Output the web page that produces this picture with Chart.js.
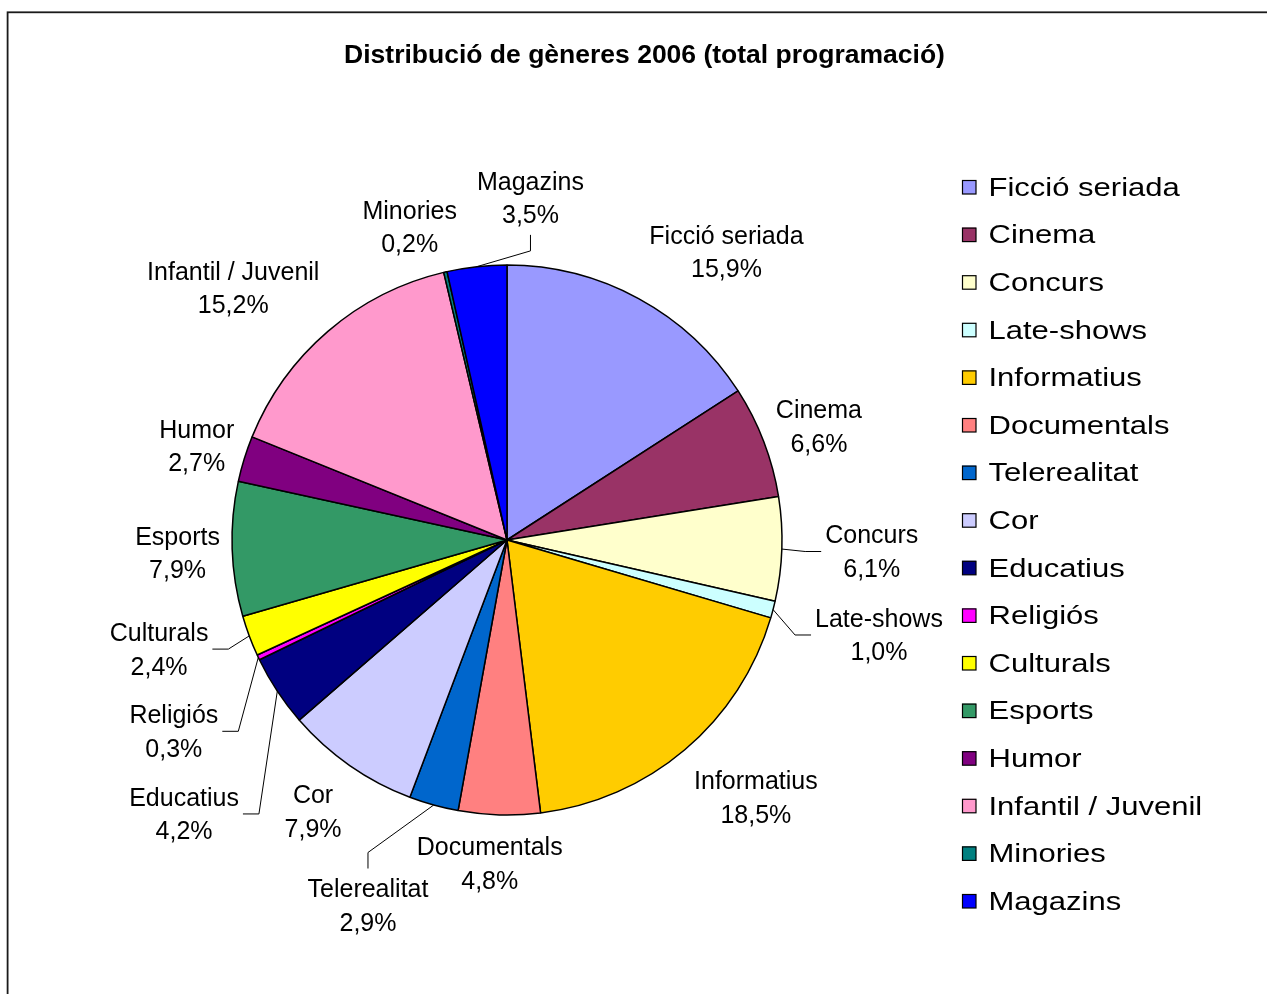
<!DOCTYPE html>
<html>
<head>
<meta charset="utf-8">
<title>Distribució de gèneres 2006</title>
<script src="https://cdn.jsdelivr.net/npm/chart.js@4"></script>
<style>
  html, body { margin: 0; padding: 0; background: #fff; overflow: hidden; }
  canvas { display: block; }
</style>
</head>
<body>
<canvas id="chart" width="1267" height="994"></canvas>
<script>
// ---- data ----
const chartTitle = 'Distribució de gèneres 2006 (total programació)';

const genres = [
  'Ficció seriada', 'Cinema', 'Concurs', 'Late-shows', 'Informatius',
  'Documentals', 'Telerealitat', 'Cor', 'Educatius', 'Religiós',
  'Culturals', 'Esports', 'Humor', 'Infantil / Juvenil', 'Minories', 'Magazins'
];

const shares = [15.9, 6.6, 6.1, 1.0, 18.5, 4.8, 2.9, 7.9, 4.2, 0.3, 2.4, 7.9, 2.7, 15.2, 0.2, 3.5];

const sliceColors = [
  '#9999FF', '#993366', '#FFFFCC', '#CCFFFF', '#FFCC00',
  '#FF8080', '#0066CC', '#CCCCFF', '#000080', '#FF00FF',
  '#FFFF00', '#339966', '#800080', '#FF99CC', '#008080', '#0000FF'
];

// ---- label layout: angular nudge (degrees, clockwise) from the slice middle,
// distance of the label centre in pie radii, and which side a leader line meets
const labelPlacement = [
  { da: 8.7,   k: 1.317 },
  { da: 0.96,  k: 1.207 },
  { da: -0.08, k: 1.327, leader: 'left' },
  { da: -0.33, k: 1.396, leader: 'left' },
  { da: -3.76, k: 1.302 },
  { da: 1.44,  k: 1.178 },
  { da: 5.36,  k: 1.422, leader: 'top' },
  { da: 0.7,   k: 1.212 },
  { da: -6.95, k: 1.540, leader: 'right' },
  { da: -4.6,  k: 1.397, leader: 'right' },
  { da: 3.0,   k: 1.326, leader: 'right' },
  { da: -0.37, k: 1.199 },
  { da: -0.32, k: 1.179 },
  { da: -6.73, k: 1.353 },
  { da: -4.32, k: 1.192 },
  { da: 10.22, k: 1.247, leader: 'bottom' }
];

const FONT = '"Liberation Sans", Arial, Helvetica, sans-serif';
const pct = v => v.toFixed(1).replace('.', ',') + '%';

// frame around the whole chart object (it runs past the right and bottom edges)
const chartFrame = {
  id: 'chartFrame',
  beforeDraw(chart) {
    const ctx = chart.ctx;
    ctx.save();
    ctx.strokeStyle = '#1a1a1a';
    ctx.lineWidth = 1.8;
    ctx.strokeRect(7.6, 12.3, chart.width + 40, chart.height + 40);
    ctx.restore();
  }
};

// title text
const chartHeading = {
  id: 'chartHeading',
  afterDraw(chart) {
    const ctx = chart.ctx;
    ctx.save();
    ctx.font = 'bold 26.5px ' + FONT;
    ctx.fillStyle = '#000';
    ctx.textAlign = 'center';
    ctx.textBaseline = 'middle';
    ctx.fillText(chartTitle, 644.5, 55.5);
    ctx.restore();
  }
};

// category + percentage labels outside the pie, with leader lines where needed
const pieLabels = {
  id: 'pieLabels',
  afterDatasetsDraw(chart) {
    const ctx = chart.ctx;
    const meta = chart.getDatasetMeta(0);
    ctx.save();
    ctx.font = '25px ' + FONT;
    ctx.fillStyle = '#000';
    ctx.strokeStyle = '#000';
    ctx.lineWidth = 1;
    ctx.textAlign = 'center';
    ctx.textBaseline = 'middle';
    const lineGap = 16.8;
    const textDrop = 1.8;
    meta.data.forEach((arc, i) => {
      const p = arc.getProps(['x', 'y', 'startAngle', 'endAngle', 'outerRadius'], true);
      const mid = (p.startAngle + p.endAngle) / 2;
      const spot = labelPlacement[i];
      const a = mid + spot.da * Math.PI / 180;
      const cx = p.x + Math.cos(a) * p.outerRadius * spot.k;
      const cy = p.y + Math.sin(a) * p.outerRadius * spot.k;
      const lines = [chart.data.labels[i], pct(chart.data.datasets[0].data[i])];
      const w = Math.max(...lines.map(t => ctx.measureText(t).width));
      const halfW = w / 2 + 4;
      const halfH = 37;
      if (spot.leader) {
        const ex = p.x + Math.cos(mid) * p.outerRadius;
        const ey = p.y + Math.sin(mid) * p.outerRadius;
        let ax, ay, bx, by;
        if (spot.leader === 'left')   { ax = cx - halfW; ay = cy; bx = ax - 16; by = ay; }
        if (spot.leader === 'right')  { ax = cx + halfW; ay = cy; bx = ax + 16; by = ay; }
        if (spot.leader === 'top')    { ax = cx; ay = cy - halfH; bx = ax; by = ay - 16; }
        if (spot.leader === 'bottom') { ax = cx; ay = cy + halfH; bx = ax; by = ay + 16; }
        ctx.beginPath();
        ctx.moveTo(ex, ey);
        ctx.lineTo(bx, by);
        ctx.lineTo(ax, ay);
        ctx.stroke();
      }
      ctx.fillText(lines[0], cx, cy - lineGap + textDrop);
      ctx.fillText(lines[1], cx, cy + lineGap + textDrop);
    });
    ctx.restore();
  }
};

// legend column on the right (text slightly widened)
const legendColumn = {
  id: 'legendColumn',
  afterDraw(chart) {
    const ctx = chart.ctx;
    const ds = chart.data.datasets[0];
    ctx.save();
    chart.data.labels.forEach((label, i) => {
      const cy = 187 + i * 47.6;
      ctx.fillStyle = ds.backgroundColor[i];
      ctx.fillRect(962, cy - 7, 14, 14);
      ctx.strokeStyle = '#000';
      ctx.lineWidth = 1.2;
      ctx.strokeRect(962.5, cy - 6.5, 13.5, 13.5);
      ctx.save();
      ctx.translate(988.5, cy + 2);
      ctx.scale(1.24, 1);
      ctx.fillStyle = '#000';
      ctx.font = '25px ' + FONT;
      ctx.textAlign = 'left';
      ctx.textBaseline = 'middle';
      ctx.fillText(label, 0, 0);
      ctx.restore();
    });
    ctx.restore();
  }
};

new Chart(document.getElementById('chart'), {
  type: 'pie',
  data: {
    labels: genres,
    datasets: [{
      data: shares,
      backgroundColor: sliceColors,
      borderColor: '#000',
      borderWidth: 1.5,
      radius: 275,
      hoverOffset: 0
    }]
  },
  options: {
    responsive: false,
    maintainAspectRatio: false,
    animation: false,
    events: [],
    layout: { padding: { left: 0, right: 253, top: 86, bottom: 0 } },
    plugins: {
      legend: { display: false },
      title: { display: false },
      tooltip: { enabled: false }
    }
  },
  plugins: [chartFrame, pieLabels, chartHeading, legendColumn]
});
</script>
</body>
</html>
